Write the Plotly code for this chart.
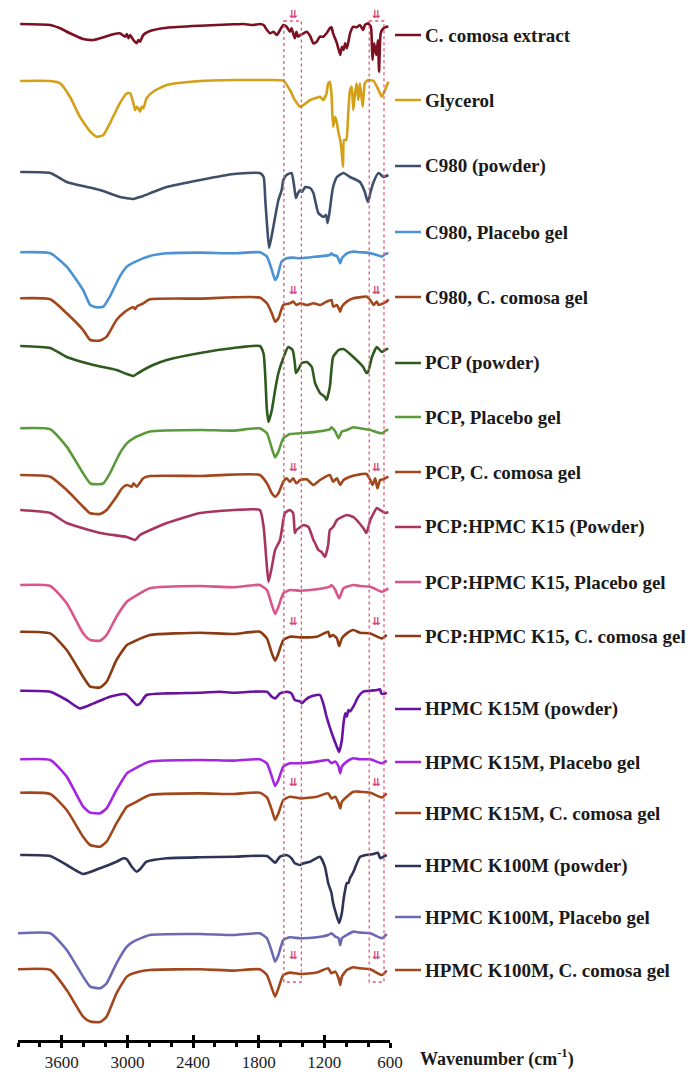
import plotly.graph_objects as go

# ---------------- data (wavenumber cm-1, relative transmittance a.u.) ----------------
names = ["C. comosa extract", "Glycerol", "C980 (powder)", "C980, Placebo gel",
         "C980, C. comosa gel", "PCP (powder)", "PCP, Placebo gel", "PCP, C. comosa gel",
         "PCP:HPMC K15 (Powder)", "PCP:HPMC K15, Placebo gel", "PCP:HPMC K15, C. comosa gel",
         "HPMC K15M (powder)", "HPMC K15M, Placebo gel", "HPMC K15M, C. comosa gel",
         "HPMC K100M (powder)", "HPMC K100M, Placebo gel", "HPMC K100M, C. comosa gel"]

wn_extract = [3980, 3705, 3615, 3525, 3405, 3310, 3220, 3130, 3070, 3020, 3005, 2990, 2975, 2945, 2915, 2900, 2885,
              2855, 2795, 2640, 2335, 2030, 1940, 1850, 1790, 1755, 1725, 1695, 1665, 1635, 1605, 1575, 1545, 1515,
              1500, 1485, 1470, 1455, 1440, 1420, 1390, 1360, 1330, 1300, 1270, 1240, 1210, 1180, 1150, 1135, 1120,
              1085, 1055, 1040, 1025, 1010, 995, 980, 965, 935, 905, 875, 845, 830, 800, 775, 760, 745, 725, 710,
              700, 685, 660, 630, 615]
t_extract = [0, -1, -4.3, -9.3, -15, -16, -13.3, -10.3, -9.3, -12.7, -10, -14.3, -11, -16, -19.3, -16, -17.7,
             -11, -7, -3.7, -1.7, -0.3, 0, -1, 0, -1, -6, -9.3, -7.7, -11, -6, -1, -2.7, -7.7,
             -4.3, -9.3, -14.3, -7.7, -12.7, -11, -9.3, -7.7, -12, -19.3, -17.7, -12.7, -12.7, -9.3, -4.3, -3.3, -9.3,
             -19.3, -31, -22.7, -26, -19.3, -24.3, -17.7, -9.3, -2.7, -3.3, -1, -6, -1, 0.7, -2.7, -36, -19.3, -31, -16,
             -47.7, -9.3, -4.3, -2.7, -2.7]

wn_glycerol = [3980, 3705, 3615, 3525, 3435, 3340, 3280, 3220, 3160, 3070, 3005, 2975, 2945, 2930, 2915, 2900, 2885,
               2870, 2855, 2825, 2765, 2640, 2335, 2030, 1725, 1575, 1515, 1470, 1420, 1390, 1330, 1270, 1240, 1210,
               1180, 1165, 1150, 1135, 1120, 1100, 1085, 1070, 1055, 1040, 1030, 1020, 1000, 980, 965, 950, 935, 920,
               905, 890, 875, 850, 830, 800, 750, 705, 675, 645, 615]
t_glycerol = [0, 0, -2.3, -15.7, -35.7, -50.7, -55.7, -54, -42.3, -22.3, -12.3, -12.3, -22.3, -29, -25.7, -27.3, -30.7,
              -25.7, -27.3, -17.3, -10.7, -4, 0, 1, 1, 0.3, -9, -19, -25.7, -24, -19, -16.7, -15.7, -19,
              -12.3, -2.3, -0.7, -12.3, -45.7, -35.7, -42.3, -52.3, -59, -72.3, -85.7, -59, -59, -29, -9, -5.7, -29, -12.3,
              -2.3, -19, -2.3, -25.7, -2.3, 1, 0, -9, -15.7, -9, -0.7]

wn_c980_powder = [3980, 3705, 3555, 3250, 3070, 2945, 2915, 2855, 2765, 2640, 2335, 2030, 1790, 1755, 1740, 1725, 1705,
                  1680, 1650, 1620, 1590, 1575, 1545, 1500, 1475, 1460, 1440, 1420, 1405, 1375, 1330, 1300, 1285, 1255,
                  1210, 1185, 1170, 1150, 1135, 1120, 1085, 1025, 965, 875, 830, 815, 800, 780, 750, 705, 660, 615]
t_c980_powder = [0, -1, -10, -18, -25, -27, -26, -24, -20, -15, -8, -2, -1, -5, -28, -51, -76,
                 -63, -45, -28, -18, -8, -3, -1, -15, -26, -21, -18, -20, -15, -16, -21, -28, -41,
                 -45, -43, -51, -38, -25, -15, -5, -1, -5, -10, -20, -26, -30, -21, -10, -1, -5, -3]

wn_c980_placebo = [3980, 3705, 3555, 3405, 3340, 3280, 3220, 3160, 3070, 3005, 2945, 2795, 2640, 2335, 2030, 1790, 1725,
                   1680, 1650, 1630, 1590, 1545, 1485, 1420, 1270, 1150, 1135, 1120, 1085, 1055, 1040, 995, 935, 875,
                   815, 720, 675, 630, 615]
t_c980_placebo = [0, -1, -14.3, -37.7, -52.7, -55, -54.3, -44.3, -24.3, -14.3, -10.3, -3.7, -1, -0.3, -1, 0, -4.3,
                  -17.7, -27.7, -24.3, -9.3, -6, -5.3, -6, -4.3, -2.7, -1, -2.7, -3.7, -11, -6, -1, 0.7, 0,
                  -0.3, -2.7, -4.3, -1, -1.7]

wn_c980_gel = [3980, 3705, 3555, 3405, 3340, 3250, 3190, 3100, 3020, 2975, 2945, 2930, 2915, 2855, 2795, 2335, 1790,
               1725, 1680, 1650, 1620, 1575, 1515, 1485, 1455, 1420, 1360, 1300, 1240, 1180, 1135, 1120, 1085, 1055,
               1040, 995, 935, 875, 815, 780, 750, 720, 705, 660, 630, 615]
t_c980_gel = [0, -1, -15, -31.7, -41.7, -42.3, -38.3, -21.7, -13.3, -10, -9, -11, -8.3, -5, -1, -0.3, 0.7,
              -5, -15, -23.3, -20, -6.7, -5, -3.3, -6.7, -5, -6.7, -5, -6.7, -3.3, -1.7, -8.3, -6.7, -13.3,
              -8.3, -3.3, 0, 1, 1.7, -1.7, -6.7, -3.3, -6.7, -5, -3.3, -1]

wn_pcp_powder = [3980, 3705, 3555, 3310, 3100, 3005, 2945, 2915, 2855, 2765, 2640, 2335, 2030, 1790, 1755, 1725, 1710,
                 1680, 1650, 1620, 1575, 1530, 1490, 1470, 1460, 1440, 1405, 1360, 1315, 1285, 1240, 1195, 1180, 1150,
                 1120, 1070, 1025, 935, 845, 815, 800, 765, 720, 675, 630, 615]
t_pcp_powder = [0, -2, -11, -19, -24, -28, -30, -28, -24, -19, -14, -7, -2, 0, -8, -64, -76,
                -64, -44, -27, -12, -1, -4, -17, -27, -24, -17, -16, -21, -37, -47, -51, -54, -41,
                -11, -4, -3, -11, -21, -27, -26, -11, -1, -6, -3, -3]

wn_pcp_placebo = [3980, 3705, 3555, 3405, 3340, 3280, 3220, 3160, 3070, 3005, 2945, 2795, 2335, 2030, 1790, 1725, 1680,
                  1650, 1620, 1575, 1515, 1420, 1270, 1150, 1135, 1100, 1070, 1040, 995, 935, 875, 780, 675, 630, 615]
t_pcp_placebo = [0, -1, -18.3, -45, -55, -56, -55, -45, -25, -15, -10, -3.3, -1.7, -2.3, 0, -5, -20,
                 -29, -23.3, -10, -5.7, -5, -3.3, -1, 1, -3.3, -10, -3.3, -1.7, 1, 0, -1.7, -5, -1.7, -1.7]

wn_pcp_gel = [3980, 3705, 3555, 3405, 3340, 3250, 3190, 3100, 3050, 3005, 2960, 2945, 2915, 2855, 2795, 2335, 1790,
              1725, 1680, 1650, 1620, 1575, 1545, 1515, 1485, 1455, 1420, 1360, 1300, 1240, 1150, 1120, 1085, 1055,
              1025, 965, 905, 815, 780, 760, 735, 715, 690, 660, 615]
t_pcp_gel = [0, -1.7, -15, -31.7, -38.3, -39, -35, -21.7, -13.3, -10, -11.7, -8.3, -11.7, -3.3, -1, -1, 0,
             -8.3, -18.3, -21.7, -18.3, -6.7, -3.3, -6.7, -3.3, -8.3, -5, -4.3, -10, -5, 0, -6.7, -3.3, -10,
             -5, -1.7, 0, 1, -5, -10, -3.3, -13.3, -5, -4.3, -1.7]

wn_mix_powder = [3980, 3705, 3555, 3250, 3005, 2930, 2885, 2640, 2335, 2030, 1790, 1755, 1725, 1710, 1680, 1650, 1605,
                 1560, 1515, 1485, 1470, 1455, 1420, 1390, 1345, 1300, 1285, 1255, 1225, 1195, 1165, 1150, 1120, 1085,
                 995, 935, 845, 815, 780, 720, 690, 645, 615]
t_mix_powder = [0, -3, -13, -23, -27, -30, -25, -13, -3, 0, 0, -17, -57, -72, -57, -40, -30,
                -3, 0, -3, -23, -20, -17, -15, -17, -30, -33, -40, -42, -47, -35, -20, -17, -10,
                -5, -7, -18, -23, -10, 2, 0, -3, -2]

wn_mix_placebo = [3980, 3705, 3555, 3405, 3340, 3250, 3190, 3100, 3005, 2945, 2795, 2335, 2030, 1790, 1725, 1680, 1650,
                  1620, 1575, 1515, 1420, 1270, 1150, 1135, 1100, 1065, 1025, 935, 875, 780, 675, 615]
t_mix_placebo = [0, -1, -18.3, -48.3, -55, -55.7, -50, -31.7, -16.7, -12.3, -3.3, -1, -2.3, 0, -5, -20, -29,
                 -21.7, -8.3, -5, -5.7, -4.3, -1.7, 0, -5, -13.3, -3.3, 0, -1, -1.7, -6.7, -3.3]

wn_mix_gel = [3980, 3705, 3555, 3405, 3340, 3250, 3190, 3100, 3005, 2945, 2795, 2335, 2030, 1790, 1725, 1680, 1650,
              1620, 1575, 1515, 1420, 1270, 1165, 1150, 1120, 1085, 1065, 1040, 995, 935, 875, 780, 675, 630]
t_mix_gel = [0, -1.7, -18.3, -45, -55, -55.7, -50, -28.3, -13.3, -10, -3.3, -1, -2.3, 0, -6.7, -21.7, -29,
             -21.7, -8.3, -5, -5.7, -5, 0, -5, -3.3, -6.7, -14.3, -6.7, -1.7, 1.7, -1, -1.7, -6.7, -3.3]

wn_k15_powder = [3980, 3705, 3555, 3435, 3310, 3160, 3035, 3005, 2960, 2915, 2885, 2825, 2640, 2335, 2155, 2030, 1725,
                 1680, 1650, 1605, 1545, 1500, 1470, 1420, 1405, 1375, 1330, 1270, 1240, 1210, 1180, 1150, 1120, 1085,
                 1065, 1040, 1025, 1010, 995, 980, 965, 935, 890, 845, 780, 720, 690, 680, 660, 630]
t_k15_powder = [0, -1, -9.3, -17.7, -12.7, -6, -3.3, -4.3, -9.3, -14.3, -12.7, -4.3, -2.7, -2, -1, -2, -1,
                -6, -7.7, -2.7, -1, -2.7, -9.3, -11, -12.7, -9.3, -6, -4.3, -4.3, -12.7, -26, -36.7, -46.3, -56.3,
                -61.3, -49.3, -32.7, -22.7, -26, -19.3, -20.7, -16, -6, -1, 0, 0.7, 1.3, -2.7, -3.3, -2]

wn_k15_placebo = [3980, 3705, 3555, 3405, 3340, 3250, 3190, 3100, 3005, 2945, 2795, 2335, 2030, 1790, 1725, 1680, 1650,
                  1620, 1575, 1515, 1420, 1270, 1165, 1135, 1100, 1070, 1055, 1040, 995, 935, 875, 780, 675, 630]
t_k15_placebo = [0, -0.7, -17.3, -47.3, -53.3, -54, -49, -30.7, -14, -10, -2.3, -0.7, -1.3, 0, -4, -17.3, -26.7,
                 -20.7, -7.3, -4, -4, -2.3, -0.7, -4, -2.3, -7.3, -14, -7.3, -2.3, 1, 0, 0, -4, -1.3]

wn_k15_gel = [3980, 3705, 3555, 3405, 3340, 3250, 3190, 3100, 3005, 2945, 2795, 2335, 2030, 1790, 1725, 1680, 1650,
              1620, 1575, 1515, 1420, 1270, 1165, 1135, 1100, 1070, 1055, 1040, 995, 935, 875, 780, 675, 630]
t_k15_gel = [0, -1.3, -17.3, -44, -52.3, -54, -49, -30.7, -14, -10.7, -2.3, -0.7, -1.3, 0, -4.7, -17.3, -27.3,
             -20.7, -7.3, -4, -5.7, -4, -0.7, -5.7, -4, -10.7, -15.7, -9, -4, 1, 1, 0, -4.7, -0.7]

wn_k100_powder = [3980, 3705, 3555, 3405, 3250, 3100, 3035, 3005, 2960, 2915, 2885, 2825, 2640, 2335, 2030, 1725, 1680,
                  1650, 1605, 1545, 1500, 1470, 1420, 1390, 1330, 1240, 1195, 1165, 1135, 1120, 1095, 1065, 1040, 1025,
                  1010, 995, 980, 965, 935, 875, 815, 750, 710, 690, 660, 630]
t_k100_powder = [0, -1, -10, -19, -13.3, -6.7, -3.3, -4.3, -11.7, -16.7, -14.3, -6.7, -3.3, -2.3, -1.7, -1, -5,
                 -7.7, -1.7, 0, -3.3, -8.3, -10, -8.3, -6.7, -1.7, -11.7, -28, -38, -48, -58, -68, -58, -45,
                 -35, -28, -28, -23, -17, -2, 0, 1, 2.3, -3.3, -1.7, 0]

wn_k100_placebo = [4000, 3705, 3555, 3405, 3340, 3250, 3190, 3100, 3005, 2945, 2795, 2335, 2030, 1790, 1725, 1680, 1650,
                   1620, 1575, 1515, 1420, 1270, 1165, 1135, 1100, 1070, 1055, 1040, 995, 935, 875, 780, 675, 630]
t_k100_placebo = [0, 0, -16.7, -43.3, -53.3, -55, -50, -30, -13.3, -8.3, -1.7, -0.7, -1.7, 0, -5, -18.3, -28.3,
                  -21.7, -6.7, -4, -5, -4, -1.7, 0, -3.3, -5, -11.7, -5, -1.7, 1.7, 0.7, 0, -5, -0.7]

wn_k100_gel = [4000, 3705, 3555, 3405, 3340, 3250, 3190, 3100, 3005, 2945, 2795, 2335, 2030, 1790, 1725, 1680, 1650,
               1620, 1575, 1515, 1420, 1270, 1165, 1135, 1100, 1070, 1055, 1040, 995, 935, 875, 780, 675, 630]
t_k100_gel = [0, -0.7, -20.7, -47.3, -52.3, -52.7, -47.3, -24, -7.3, -4, -0.7, 0, -1.3, 0, -5.7, -19, -27.3,
              -19, -5.7, -3.3, -4.7, -3.3, 1, -4, -2.3, -9, -15.7, -7.3, -0.7, 2, 1, 0, -5.7, -1.3]

spectra_wn = [wn_extract, wn_glycerol, wn_c980_powder, wn_c980_placebo, wn_c980_gel, wn_pcp_powder,
              wn_pcp_placebo, wn_pcp_gel, wn_mix_powder, wn_mix_placebo, wn_mix_gel, wn_k15_powder,
              wn_k15_placebo, wn_k15_gel, wn_k100_powder, wn_k100_placebo, wn_k100_gel]
spectra_t = [t_extract, t_glycerol, t_c980_powder, t_c980_placebo, t_c980_gel, t_pcp_powder,
             t_pcp_placebo, t_pcp_gel, t_mix_powder, t_mix_placebo, t_mix_gel, t_k15_powder,
             t_k15_placebo, t_k15_gel, t_k100_powder, t_k100_placebo, t_k100_gel]

x_ticks = [3600, 3000, 2400, 1800, 1200, 600]

# ---------------- layout / style ----------------
colors = ["#7a1020", "#d4a017", "#3f4f6b", "#4a92d4", "#a2461c", "#2f5a1d", "#5b9a3a", "#a2461c",
          "#a83460", "#d9558a", "#8b3a12", "#6a12a0", "#a526e0", "#a2461c", "#2e3458", "#6a6ab4", "#a2461c"]
stack_offsets = [24, 81, 172, 252.3, 298.3, 346, 428.3, 475, 510, 585, 631.7, 690.7, 759.3, 792.7, 855, 933.3, 969.3]
label_pos = [35, 100, 166, 232, 297, 363, 417, 472, 527, 582, 636, 709, 762, 813, 866, 917, 970]
gel_arrow_pos = [14, 290, 467, 621, 782, 955]

BODY = 8                      # default page margin of the html body
W, H = 693 - BODY, 1077 - BODY
PL, PR, PTOP, PB = 18, 390, BODY, 1040   # plot area in page pixels
pw = PR - PL
ph = PB - PTOP

fig = go.Figure()
for wn, t, off, c in zip(spectra_wn, spectra_t, stack_offsets, colors):
    fig.add_trace(go.Scatter(x=wn, y=[v - off for v in t], mode="lines",
                             line=dict(color=c, width=2.6, shape="spline", smoothing=0.5),
                             hoverinfo="skip", showlegend=False))
# dummy trace carrying the upper tick-mark axis
fig.add_trace(go.Scatter(x=[4000, 600], y=[-2000, -2000], xaxis="x2", mode="lines",
                         line=dict(width=0), hoverinfo="skip", showlegend=False))

shapes = []
annotations = []
for name, ly, c in zip(names, label_pos, colors):
    yp = (PB - ly) / ph
    shapes.append(dict(type="line", xref="paper", yref="paper", x0=(395 - PL) / pw, x1=(421 - PL) / pw,
                       y0=yp, y1=yp, line=dict(color=c, width=2.5)))
    annotations.append(dict(text=name, xref="paper", yref="paper", x=(423 - PL) / pw, y=yp,
                            xanchor="left", yanchor="middle", showarrow=False,
                            font=dict(family="Liberation Serif", size=19, color="#1a1a1a", weight="bold")))

# dotted highlight boxes
for x0, x1 in [(1570, 1410), (790, 655)]:
    shapes.append(dict(type="rect", xref="x", yref="y", x0=x0, x1=x1, y0=-21, y1=-982,
                       line=dict(color="#e05a78", width=1.3, dash="dot")))
for ay in gel_arrow_pos:
    for ax in [1485, 720]:
        annotations.append(dict(text="<b>⇊</b>", x=ax, y=-ay, xref="x", yref="y", showarrow=False,
                                font=dict(family="DejaVu Sans", size=11, color="#d6457a"),
                                xanchor="center", yanchor="middle"))

annotations.append(dict(text="Wavenumber (cm<sup>-1</sup>)", xref="paper", yref="paper",
                        x=(418 - PL) / pw, y=(PB - 1058) / ph, xanchor="left", yanchor="middle",
                        showarrow=False,
                        font=dict(family="Liberation Serif", size=18, color="#1a1a1a", weight="bold")))

fig.update_layout(
    width=W, height=H, margin=dict(l=PL - BODY, r=W - (PR - BODY), t=0, b=H - (PB - BODY), pad=0),
    paper_bgcolor="white", plot_bgcolor="white",
    xaxis=dict(range=[4000, 600], tickvals=x_ticks, ticks="outside", ticklen=5, tickwidth=2.5,
               tickcolor="black", showline=True, linewidth=3, linecolor="black", showgrid=False,
               zeroline=False, tickfont=dict(family="Liberation Serif", size=17, color="#1a1a1a"),
               minor=dict(dtick=200, tick0=600, ticks="outside", ticklen=4, tickwidth=2.5, tickcolor="black")),
    xaxis2=dict(range=[4000, 600], overlaying="x", anchor="y", side="bottom", tickvals=x_ticks,
                ticks="inside", ticklen=5, tickwidth=2.5, tickcolor="black", showticklabels=False,
                showline=False, showgrid=False, zeroline=False),
    yaxis=dict(range=[-PB, -PTOP], visible=False, fixedrange=True),
    shapes=shapes, annotations=annotations,
)
fig.write_html("out.html")
